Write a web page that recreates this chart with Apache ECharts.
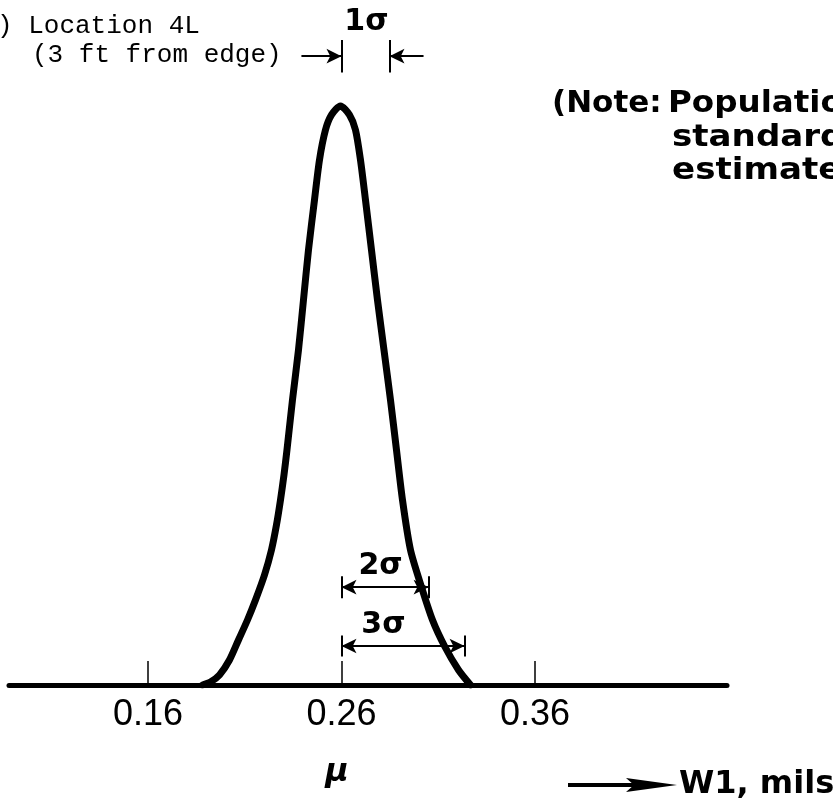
<!DOCTYPE html>
<html><head><meta charset="utf-8">
<script src="https://cdn.jsdelivr.net/npm/echarts@6/dist/echarts.min.js"></script>
<style>html,body{margin:0;padding:0;background:#fff}#c{width:833px;height:807px}</style>
</head><body><div id="c"></div>
<script>
// W1 (mils) along the curve, and relative frequency (peak = 1)
const curveX = [0.18818,0.19230,0.19695,0.20212,0.20677,0.21142,0.21556,0.22021,0.22382,0.22641,0.22848,0.23028,0.23183,0.23468,0.23778,0.24036,0.24295,0.24605,0.24863,0.25173,0.25483,0.25948,0.26413,0.26724,0.26982,0.27240,0.27550,0.27860,0.28196,0.28532,0.28842,0.29152,0.29566,0.30134,0.30703,0.31323,0.32047,0.32667];
const curveY = [0,0.00518,0.01727,0.04318,0.07772,0.11226,0.14680,0.18998,0.23316,0.27634,0.31952,0.36269,0.40587,0.49223,0.57858,0.66494,0.75130,0.83765,0.90674,0.95855,0.98446,1.0,0.98446,0.95855,0.90674,0.83765,0.75130,0.66494,0.57858,0.49223,0.40587,0.31952,0.23316,0.16926,0.11226,0.06736,0.02591,0];
const tickValues = [0.16, 0.26, 0.36];
const tickLabels = ['0.16', '0.26', '0.36'];
const meanValue = 0.26;
const sigmaLabels = ['1σ', '2σ', '3σ'];
const sigmaEnd = [0.2848, 0.3050, 0.3236];

const font = '"DejaVu Sans", sans-serif';
const chart = echarts.init(document.getElementById('c'), null, {renderer: 'canvas'});

const data = curveX.map((x, i) => [x, curveY[i]]);
const levels = [1.086, 0.169, 0.0674];
const barHalf = [0.028, 0.019, 0.018];
const labelPos = [[0.2729, 1.145], [0.2802, 0.2055], [0.2817, 0.1036]];

const lines = [];
// 1σ: bars with inward arrows
lines.push([{coord: [meanValue, levels[0] - barHalf[0]], symbol: 'none'}, {coord: [meanValue, levels[0] + barHalf[0]], symbol: 'none'}]);
lines.push([{coord: [sigmaEnd[0], levels[0] - barHalf[0]], symbol: 'none'}, {coord: [sigmaEnd[0], levels[0] + barHalf[0]], symbol: 'none'}]);
lines.push([{coord: [0.2393, levels[0]], symbol: 'none'}, {coord: [meanValue, levels[0]], symbol: 'arrow'}]);
lines.push([{coord: [0.3024, levels[0]], symbol: 'none'}, {coord: [sigmaEnd[0], levels[0]], symbol: 'arrow'}]);
// 2σ, 3σ: bars with outward arrows
for (let i = 1; i < 3; i++) {
  lines.push([{coord: [meanValue, levels[i] - barHalf[i]], symbol: 'none'}, {coord: [meanValue, levels[i] + barHalf[i]], symbol: 'none'}]);
  lines.push([{coord: [sigmaEnd[i], levels[i] - barHalf[i]], symbol: 'none'}, {coord: [sigmaEnd[i], levels[i] + barHalf[i]], symbol: 'none'}]);
  lines.push([{coord: [meanValue, levels[i]], symbol: 'arrow'}, {coord: [sigmaEnd[i], levels[i]], symbol: 'arrow'}]);
}

const noteFont = 'bold 31px ' + font;

chart.setOption({
  animation: false,
  backgroundColor: '#fff',
  grid: {left: 9, right: 106, top: 0, bottom: 122, containLabel: false},
  xAxis: {
    type: 'value', min: 0.0882, max: 0.4592,
    axisLine: {show: true, lineStyle: {color: '#000', width: 5}},
    axisTick: {show: true, inside: true, length: 24, customValues: tickValues, lineStyle: {color: '#000', width: 1.5}},
    axisLabel: {show: true, customValues: tickValues, margin: 12,
      formatter: v => tickLabels[tickValues.findIndex(t => Math.abs(t - v) < 1e-6)] || '',
      fontFamily: '"Liberation Sans", sans-serif', fontSize: 36, color: '#000'},
    splitLine: {show: false}
  },
  yAxis: {type: 'value', min: 0, max: 1.183, show: false},
  series: [{
    type: 'line', data: data, smooth: 0.25, symbol: 'none', silent: true, z: 5,
    lineStyle: {color: '#000', width: 7, join: 'round', cap: 'round'},
    markLine: {
      silent: true, symbol: ['none', 'none'], symbolSize: [11, 15], animation: false,
      lineStyle: {color: '#000', width: 2, type: 'solid'},
      label: {show: false}, emphasis: {disabled: true},
      data: lines
    },
    markPoint: {
      silent: true, symbol: 'circle', symbolSize: 1, itemStyle: {color: 'rgba(0,0,0,0)'},
      label: {show: true, position: 'inside', formatter: '{b}', color: '#000', fontFamily: font, fontWeight: 'bold', fontSize: 30},
      emphasis: {disabled: true},
      data: sigmaLabels.map((s, i) => ({name: s, coord: labelPos[i]}))
    }
  }],
  graphic: [
    {type: 'text', x: -3, y: 26, style: {text: ') Location 4L', font: '26px "Liberation Mono", monospace', fill: '#000', verticalAlign: 'middle'}},
    {type: 'text', x: 32, y: 55, style: {text: '(3 ft from edge)', font: '26px "Liberation Mono", monospace', fill: '#000', verticalAlign: 'middle'}},
    {type: 'text', x: 552, y: 104, style: {text: '(Note:', font: noteFont, fill: '#000', verticalAlign: 'middle'}},
    {type: 'text', x: 668, y: 104, scaleX: 1.05, style: {text: 'Population', font: noteFont, fill: '#000', verticalAlign: 'middle'}},
    {type: 'text', x: 672, y: 138, scaleX: 1.1, style: {text: 'standard', font: noteFont, fill: '#000', verticalAlign: 'middle'}},
    {type: 'text', x: 672, y: 171, scaleX: 1.1, style: {text: 'estimated', font: noteFont, fill: '#000', verticalAlign: 'middle'}},
    {type: 'text', x: 337, y: 773, style: {text: 'μ', font: 'italic bold 32px ' + font, fill: '#000', align: 'center', verticalAlign: 'middle'}},
    {type: 'line', shape: {x1: 568, y1: 785, x2: 640, y2: 785}, style: {stroke: '#000', lineWidth: 4}},
    {type: 'polygon', shape: {points: [[626, 778], [677, 785], [626, 792], [634, 785]]}, style: {fill: '#000'}},
    {type: 'text', x: 679, y: 785, style: {text: 'W1, mils', font: 'bold 32px ' + font, fill: '#000', verticalAlign: 'middle'}}
  ]
});
</script></body></html>
